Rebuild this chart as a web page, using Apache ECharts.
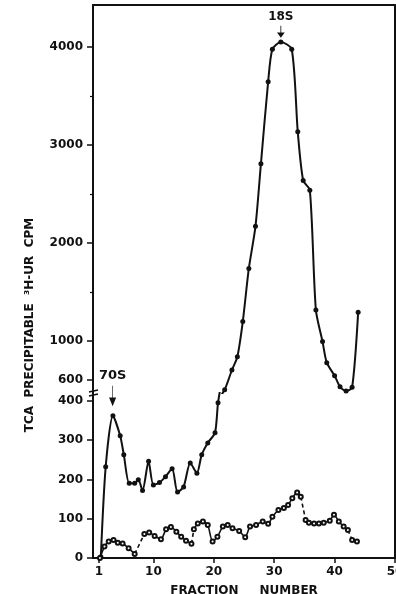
<!DOCTYPE html>
<html>
<head>
<meta charset="utf-8">
<script src="https://cdn.jsdelivr.net/npm/echarts@6/dist/echarts.min.js"></script>
<style>
  html, body { margin: 0; padding: 0; background: #fff; }
  #chart { width: 396px; height: 594px; }
</style>
</head>
<body>
<div id="chart"></div>
<script>
// tick labels
const fractionTicks = [1, 10, 20, 30, 40, 50]
const lowerTicks = [0, 100, 200, 300, 400]
const upperTicks = [600, 1000, 2000, 3000, 4000]
const upperMinorTicks = [1500, 2500, 3500]

// filled dots (solid line)
const solidFrac = [1.3, 2.1, 3.3, 4.5, 5.1, 6.0, 6.9, 7.5, 8.2, 9.2, 10.0, 11.0, 12.0, 13.1, 14.0, 15.0, 16.1, 17.2, 18.0, 19.0, 20.2, 20.7, 21.8, 23.0, 23.9, 24.8, 25.8, 26.9, 27.8, 29.0, 29.7, 31.1, 32.9, 33.9, 34.8, 35.9, 36.9, 38.0, 38.7, 40.0, 40.9, 41.9, 42.9, 43.9]
const solidCpm = [3, 232, 362, 311, 263, 190, 190, 199, 172, 246, 186, 192, 207, 227, 168, 181, 242, 216, 263, 293, 319, 395, 500, 702, 838, 1197, 1739, 2169, 2808, 3647, 3978, 4052, 3978, 3135, 2637, 2538, 1316, 992, 777, 644, 531, 487, 525, 1293]

// open circles (lower trace)
const openFrac = [1.15, 1.9, 2.6, 3.4, 4.1, 4.9, 5.9, 6.9, 8.5, 9.3, 10.2, 11.25, 12.1, 12.9, 13.8, 14.6, 15.4, 16.3, 16.7, 17.35, 18.2, 19.0, 19.8, 20.6, 21.5, 22.3, 23.1, 24.2, 25.2, 26.0, 27.0, 28.1, 29.0, 29.7, 30.7, 31.6, 32.3, 33.0, 33.8, 34.4, 35.2, 35.75, 36.6, 37.4, 38.2, 39.2, 39.9, 40.7, 41.5, 42.2, 42.9, 43.7]
const openCpm = [0, 29, 42, 46, 39, 37, 25, 10, 61, 65, 56, 48, 73, 79, 67, 54, 44, 36, 73, 88, 93, 84, 42, 54, 80, 84, 76, 69, 53, 80, 84, 93, 87, 105, 122, 127, 135, 152, 167, 156, 97, 90, 88, 88, 90, 95, 110, 93, 80, 71, 46, 42]
// segments drawn dashed (index of first point)
const openDashed = [7, 17, 39, 49]

const INK = '#111'
const FONT = 'DejaVu Sans'
const LEFT = 93
const BREAK_Y = 393

const solidData = solidFrac.map((f, i) => [f, solidCpm[i]])

const openData = []
const dashData = []
openFrac.forEach((f, i) => {
  openData.push([f, openCpm[i]])
  if (openDashed.includes(i)) {
    openData.push([f, '-'])
    dashData.push([f, openCpm[i]], [openFrac[i + 1], openCpm[i + 1]], [openFrac[i + 1], '-'])
  }
})

const chart = echarts.init(document.getElementById('chart'))

const labelStyle = { color: INK, fontFamily: FONT, fontWeight: 'bold', fontSize: 12 }
const axisLine = { show: true, onZero: false, lineStyle: { color: INK, width: 2 } }
const plain = v => String(v)

function frameAxis(gridIndex, min, max) {
  return {
    type: 'value', gridIndex, position: 'right', min, max,
    axisLine, axisTick: { show: false }, axisLabel: { show: false }, splitLine: { show: false },
  }
}

const arrow = 'path://M4,0 L4,15 M1.5,13 L4,19 L6.5,13 Z'

const option = {
  animation: false,
  backgroundColor: '#fff',
  grid: [
    { left: LEFT, right: 1, top: 5, height: BREAK_Y - 5, outerBoundsMode: 'none', containLabel: false },
    { left: LEFT, right: 1, top: BREAK_Y, bottom: 36, outerBoundsMode: 'none', containLabel: false },
  ],
  xAxis: [
    {
      type: 'value', gridIndex: 0, position: 'top', min: 0, max: 50,
      axisLine, axisTick: { show: false }, axisLabel: { show: false }, splitLine: { show: false },
    },
    {
      type: 'value', gridIndex: 1, position: 'bottom', min: 0, max: 50,
      axisLine,
      axisTick: { show: true, length: 5, lineStyle: { color: INK, width: 1.5 }, customValues: fractionTicks },
      axisLabel: { ...labelStyle, margin: 8, customValues: fractionTicks, formatter: plain },
      splitLine: { show: false },
      name: 'FRACTION     NUMBER',
      nameLocation: 'middle',
      nameGap: 27,
      nameTextStyle: labelStyle,
    },
  ],
  yAxis: [
    {
      type: 'value', gridIndex: 0, position: 'left', min: 467, max: 4430,
      axisLine,
      axisTick: { show: true, length: 6, lineStyle: { color: INK, width: 1.5 }, customValues: upperTicks },
      axisLabel: { ...labelStyle, margin: 10, customValues: upperTicks, formatter: plain },
      splitLine: { show: false },
    },
    {
      type: 'value', gridIndex: 0, position: 'left', min: 467, max: 4430,
      axisLine: { show: false },
      axisTick: { show: true, length: 3, lineStyle: { color: INK, width: 1.2 }, customValues: upperMinorTicks },
      axisLabel: { show: false },
      splitLine: { show: false },
    },
    frameAxis(0, 467, 4430),
    {
      type: 'value', gridIndex: 1, position: 'left', min: 0, max: 420,
      axisLine,
      axisTick: { show: true, length: 6, lineStyle: { color: INK, width: 1.5 }, customValues: lowerTicks },
      axisLabel: { ...labelStyle, margin: 10, customValues: lowerTicks, formatter: plain },
      splitLine: { show: false },
    },
    frameAxis(1, 0, 420),
  ],
  graphic: [
    {
      type: 'text', x: 30, y: 325, rotation: Math.PI / 2,
      style: {
        text: 'TCA  PRECIPITABLE  ³H-UR  CPM',
        font: 'bold 12px "DejaVu Sans"',
        fill: INK, align: 'center', verticalAlign: 'middle',
        textAlign: 'center', textVerticalAlign: 'middle',
      },
    },
    // axis break marks
    { type: 'line', shape: { x1: LEFT - 4, y1: BREAK_Y - 1, x2: LEFT + 5, y2: BREAK_Y - 3 }, style: { stroke: INK, lineWidth: 1.5 } },
    { type: 'line', shape: { x1: LEFT - 4, y1: BREAK_Y + 3, x2: LEFT + 5, y2: BREAK_Y + 1 }, style: { stroke: INK, lineWidth: 1.5 } },
  ],
  series: [
    {
      type: 'line', xAxisIndex: 0, yAxisIndex: 0, data: solidData, clip: true,
      smooth: 0.25, symbol: 'circle', symbolSize: 5,
      lineStyle: { color: INK, width: 2 }, itemStyle: { color: INK },
      markPoint: {
        symbol: arrow, symbolSize: [5, 11], symbolOffset: [0, '-50%'],
        itemStyle: { color: INK, borderColor: INK, borderWidth: 1.2 },
        label: { show: true, position: 'top', distance: 2, formatter: '18S', ...labelStyle },
        data: [{ coord: [31.1, 4105] }],
      },
    },
    {
      type: 'line', xAxisIndex: 1, yAxisIndex: 3, data: solidData, clip: true,
      smooth: 0.25, symbol: 'circle', symbolSize: 5,
      lineStyle: { color: INK, width: 2 }, itemStyle: { color: INK },
      markPoint: {
        symbol: arrow, symbolSize: [5, 19], symbolOffset: [0, '-50%'],
        itemStyle: { color: INK, borderColor: INK, borderWidth: 1.2 },
        label: { show: true, position: 'top', distance: 2, formatter: '70S', ...labelStyle, fontSize: 13 },
        data: [{ coord: [3.25, 390] }],
      },
    },
    {
      type: 'line', xAxisIndex: 1, yAxisIndex: 3, data: openData, clip: true,
      smooth: 0.25, symbol: 'emptyCircle', symbolSize: 4,
      lineStyle: { color: INK, width: 1.6 }, itemStyle: { color: INK, borderWidth: 1 },
    },
    {
      type: 'line', xAxisIndex: 1, yAxisIndex: 3, data: dashData, clip: true,
      showSymbol: false,
      lineStyle: { color: INK, width: 1.6, type: [4, 3] },
    },
  ],
}

chart.setOption(option)
</script>
</body>
</html>
